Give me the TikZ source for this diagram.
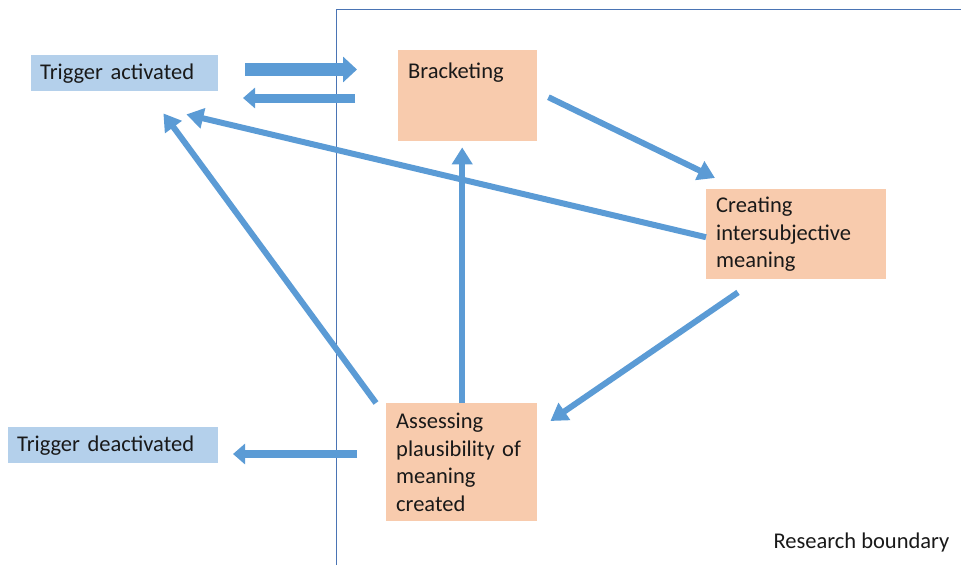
\documentclass[tikz,border=0pt]{standalone}
\usepackage{fontspec}
\setmainfont{Carlito}
\usetikzlibrary{arrows.meta}
\definecolor{peach}{HTML}{F8CBAD}
\definecolor{paleblue}{HTML}{B4D0EB}
\definecolor{flowblue}{HTML}{5B9BD5}
\definecolor{rulecol}{HTML}{4A74B4}
\begin{document}
\begin{tikzpicture}[x=1pt,y=-1pt,
  every node/.style={font=\fontsize{22.5}{27.5}\selectfont, text=black!90},
  stepbox/.style={fill=peach, anchor=north west, align=left, inner xsep=10pt, inner ysep=0pt},
  trigbox/.style={fill=paleblue, anchor=north west, align=left, inner xsep=9pt, inner ysep=0pt, minimum height=36pt, text height=16pt, text depth=4pt},
  flow/.style={draw=flowblue, line width=6pt, -{Triangle[width=20pt,length=17pt]}},
  blockR/.style={draw=flowblue, line width=13pt, -{Triangle[width=25pt,length=14pt]}},
  blockL/.style={draw=flowblue, line width=9pt, -{Triangle[width=20pt,length=12pt]}},
  ]
\useasboundingbox (0,0) rectangle (961,565);

% research boundary
\draw[rulecol, line width=0.9pt] (336,565) -- (336,9) -- (961,9);
\node[anchor=base west] (rb) at (770,548) {Research boundary};

% trigger states
\node[trigbox, text width=169pt] (ta) at (31,55) {Trigger activated};
\node[trigbox, text width=192pt] (td) at (8,427) {Trigger deactivated};

% process steps
\node[stepbox, text width=119pt, inner ysep=12pt, text height=16pt, text depth=51pt] (br) at (398,50) {Bracketing};
\node[stepbox, text width=160pt, minimum height=90pt] (cr) at (706,189) {Creating\\intersubjective\\meaning};
\node[stepbox, text width=131pt, minimum height=118pt] (as) at (386,403) {Assessing\\plausibility of\\meaning\\created};

% block arrows across the boundary
\coordinate (inS) at (245,69.5);
\coordinate (inE) at (357,69.5);
\coordinate (backS) at (355,98);
\coordinate (backE) at (243,98);
\coordinate (outS) at (357,454);
\coordinate (outE) at (233,454);
\draw[blockR] (inS) -- (inE);
\draw[blockL] (backS) -- (backE);
\draw[blockL, line width=8pt] (outS) -- (outE);

% flows between steps
\draw[flow] ([shift={(11,1.5)}]br.east) -- ([shift={(9,-11)}]cr.north west);
\draw[flow] ([shift={(32,13)}]cr.south west) -- ([shift={(13,18)}]as.north east);
\draw[flow] ([xshift=0.5pt]as.north) -- ([xshift=0.5pt,yshift=-6pt]as.north |- br.south);
\draw[flow] ([shift={(0,3)}]cr.west) -- ([shift={(-32,23)}]ta.south east);
\draw[flow] ([shift={(-10,0)}]as.north west) -- ([shift={(-55,22)}]ta.south east);
\end{tikzpicture}
\end{document}
